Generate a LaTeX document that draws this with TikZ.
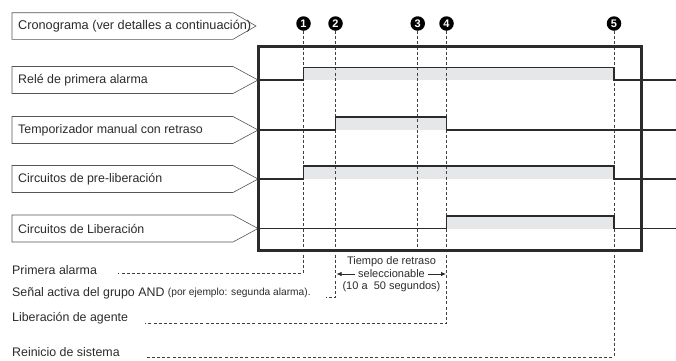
\documentclass[tikz,border=0pt]{standalone}
\usepackage{fontspec}
\setmainfont{Liberation Sans}
\usetikzlibrary{arrows.meta}
\definecolor{ink}{HTML}{2B2B2B}
\definecolor{boxline}{HTML}{555555}
\definecolor{hifill}{HTML}{E6E7E8}
\definecolor{dashcol}{HTML}{404040}
\tikzset{
  lbl/.style={font=\fontsize{12.4}{14}\selectfont, anchor=west, inner sep=0pt, text=ink},
  smalltxt/.style={font=\fontsize{10.2}{12}\selectfont, anchor=west, inner sep=0pt, text=ink},
  annot/.style={font=\fontsize{11}{12}\selectfont, inner sep=0pt, text=ink},
  tagbox/.style={draw=boxline, line width=0.6pt, fill=white},
  frame/.style={draw=ink, line width=3.2pt, line join=miter},
  sigline/.style={draw=ink, line width=1.2pt},
  hiband/.style={fill=hifill},
  dsh/.style={draw=dashcol, line width=0.7pt, dash pattern=on 3pt off 2.2pt},
  numc/.style={circle, fill=black, minimum size=14.5pt, inner sep=0pt, text=white, font=\bfseries\fontsize{11}{11}\selectfont},
  tarrow/.style={draw=ink, line width=0.8pt, -{Latex[length=5pt,width=4.5pt]}}
}
\begin{document}
\begin{tikzpicture}[x=1pt,y=-1pt]
\useasboundingbox (0,0) rectangle (676,360);

% time positions
\def\tA{303.5}\def\tB{335.5}\def\tC{417.7}\def\tD{446.5}\def\tE{614}

% label boxes
\draw[tagbox] (12,12.7) -- (233,12.7) -- (256,26) -- (233,39.3) -- (12,39.3) -- cycle;
\node[lbl, font=\fontsize{12.7}{14}\selectfont] (lcrono) at (18,26) {Cronograma (ver detalles a continuación)};
\foreach \yc/\nm/\tx in {80/lrele/Relé de primera alarma,
                         130/ltemp/Temporizador manual con retraso,
                         179/lpre/Circuitos de pre-liberación,
                         228.5/llib/Circuitos de Liberación}{
  \draw[tagbox] (12,\yc-13.5) -- (233,\yc-13.5) -- (258,\yc) -- (233,\yc+13.5) -- (12,\yc+13.5) -- cycle;
  \node[lbl] (\nm) at (18,\yc) {\tx};
}

% highlighted bands
\fill[hiband] (\tA,67.3) rectangle (\tE,80);
\fill[hiband] (\tB,117) rectangle (\tD,130);
\fill[hiband] (\tA,166) rectangle (\tE,179);
\fill[hiband] (\tD,216) rectangle (\tE,228.5);

% number markers
\node[numc] (n1) at (\tA,23.5) {1};
\node[numc] (n2) at (\tB,23.5) {2};
\node[numc] (n3) at (\tC,23.5) {3};
\node[numc] (n4) at (\tD,23.5) {4};
\node[numc] (n5) at (\tE,23.5) {5};

% bottom texts
\node[lbl] (pa) at (12,270) {Primera alarma};
\node[lbl] (sa) at (12,293) {Señal activa del grupo AND};
\node[smalltxt] (sb) at ([xshift=3pt]sa.east) {(por ejemplo: segunda alarma).};
\node[lbl] (la) at (12,318.5) {Liberación de agente};
\node[lbl] (rs) at (12,352.5) {Reinicio de sistema};

% dashed guide corners
\coordinate (c1) at (\tA,273.3);
\coordinate (c2) at (\tB,297.7);
\coordinate (c3) at (\tC,250);
\coordinate (c4) at (\tD,323.5);
\coordinate (c5) at (\tE,357);

\draw[dsh] (n1.south) -- (c1) -- (118,273.3);
\draw[dsh] (n2.south) -- (c2) -- (326,297.7);
\draw[dsh] (n3.south) -- (c3);
\draw[dsh] (n4.south) -- (c4) -- (145,323.5);
\draw[dsh] (n5.south) -- (c5) -- (146.5,357);

% signal lines
\draw[sigline] (258,80) -- (\tA,80) -- (\tA,67.3) -- (\tE,67.3) -- (\tE,80) -- (676,80);
\draw[sigline] (258,130) -- (\tB,130) -- (\tB,117) -- (\tD,117) -- (\tD,130) -- (676,130);
\draw[sigline] (258,179) -- (\tA,179) -- (\tA,166) -- (\tE,166) -- (\tE,179) -- (676,179);
\draw[sigline] (258,228.5) -- (\tD,228.5) -- (\tD,216) -- (\tE,216) -- (\tE,228.5) -- (676,228.5);

% main frame
\draw[frame] (258.5,46.5) rectangle (641.5,250.5);

% delay annotation
\node[annot] (ta) at (391.5,261.5) {Tiempo de retraso};
\node[annot] (tb) at (391.5,274) {seleccionable};
\node[annot] (tc) at (391.5,286.7) {(10 a~~50 segundos)};
\coordinate (aL) at (\tB+1,274);
\coordinate (aR) at (\tD-0.5,274);
\draw[tarrow] ([xshift=-3pt]tb.west) -- (aL);
\draw[tarrow] ([xshift=3pt]tb.east) -- (aR);
\end{tikzpicture}
\end{document}
